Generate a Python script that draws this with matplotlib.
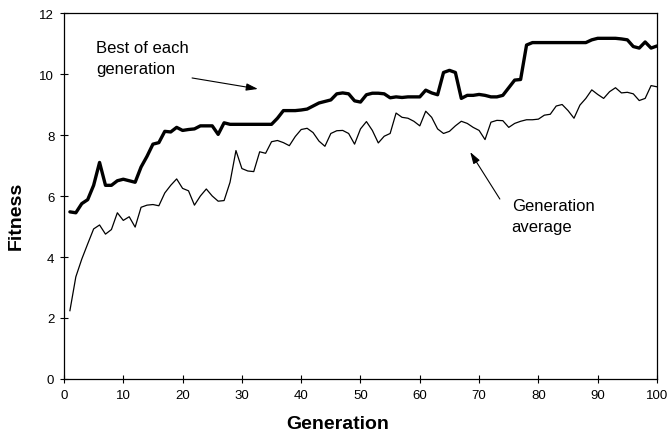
"""
plot.py - Fitness über Generationen (Bester + Durchschnitt)
"""

import matplotlib
matplotlib.use('Agg')
import matplotlib.pyplot as plt

# ─── Daten ─────────────────────────────────────────────────────────────────────
generationen = list(range(1, 101))

beste_fitness = [
    5.48, 5.45, 5.75, 5.88, 6.35, 7.10, 6.35, 6.35, 6.50, 6.55,
    6.50, 6.45, 6.95, 7.30, 7.70, 7.75, 8.12, 8.10, 8.25, 8.15,
    8.18, 8.20, 8.30, 8.30, 8.30, 8.02, 8.40, 8.35, 8.35, 8.35,
    8.35, 8.35, 8.35, 8.35, 8.35, 8.55, 8.80, 8.80, 8.80, 8.82,
    8.85, 8.95, 9.05, 9.10, 9.15, 9.35, 9.38, 9.35, 9.12, 9.08,
    9.32, 9.37, 9.37, 9.35, 9.22, 9.25, 9.23, 9.25, 9.25, 9.25,
    9.47, 9.38, 9.32, 10.05, 10.12, 10.05, 9.20, 9.30, 9.30, 9.33,
    9.30, 9.25, 9.25, 9.30, 9.55, 9.80, 9.82, 10.95, 11.03, 11.03,
    11.03, 11.03, 11.03, 11.03, 11.03, 11.03, 11.03, 11.03, 11.12, 11.17,
    11.17, 11.17, 11.17, 11.15, 11.12, 10.90, 10.85, 11.05, 10.85, 10.92,
]

durchschnitt = [
    2.24, 3.35, 3.93, 4.43, 4.92, 5.05, 4.75, 4.90, 5.45, 5.20,
    5.32, 4.98, 5.63, 5.70, 5.72, 5.68, 6.10, 6.35, 6.56, 6.25,
    6.17, 5.70, 6.00, 6.23, 6.00, 5.83, 5.85, 6.45, 7.49, 6.90,
    6.82, 6.80, 7.45, 7.40, 7.78, 7.82, 7.75, 7.65, 7.95, 8.18,
    8.22, 8.08, 7.80, 7.63, 8.05, 8.14, 8.15, 8.05, 7.70, 8.20,
    8.44, 8.15, 7.74, 7.96, 8.05, 8.72, 8.58, 8.55, 8.45, 8.30,
    8.78, 8.58, 8.20, 8.05, 8.12, 8.30, 8.45, 8.38, 8.25, 8.15,
    7.85, 8.42, 8.48, 8.47, 8.25, 8.38, 8.45, 8.50, 8.50, 8.52,
    8.65, 8.68, 8.95, 9.00, 8.80, 8.55, 8.98, 9.20, 9.48, 9.33,
    9.20, 9.42, 9.55, 9.38, 9.40, 9.35, 9.13, 9.20, 9.62, 9.58,
]

x_ticks = list(range(0, 101, 10))
y_ticks = list(range(0, 13, 2))

plt.rcParams['font.family'] = ['Liberation Sans', 'DejaVu Sans']

# ─── Plot ──────────────────────────────────────────────────────────────────────
fig = plt.figure(figsize=(6.72, 4.39), dpi=100)
ax = fig.add_axes([0.0952, 0.1344, 0.8825, 0.8337])

ax.plot(generationen, beste_fitness, color='black', linewidth=2.4,
        solid_joinstyle='round', solid_capstyle='round')
ax.plot(generationen, durchschnitt, color='black', linewidth=0.9,
        solid_joinstyle='round')

ax.set_xlim(0, 100)
ax.set_ylim(0, 12)
ax.set_xticks(x_ticks)
ax.set_yticks(y_ticks)
ax.tick_params(direction='inout', length=6, width=0.8, labelsize=9.5,
               pad=4, colors='black')

for spine in ax.spines.values():
    spine.set_linewidth(0.9)
    spine.set_color('black')

# Achsenbeschriftungen
fig.text(16 / 672, 1 - 216 / 439, 'Fitness', rotation=90, fontsize=14,
         fontweight='bold', ha='center', va='center')
fig.text(338 / 672, 1 - 425 / 439, 'Generation', fontsize=14,
         fontweight='bold', ha='center', va='center')

# Annotationen mit Pfeilen
pfeil = dict(arrowstyle='-|>,head_length=0.7,head_width=0.22',
             color='black', linewidth=0.8, shrinkA=0, shrinkB=0)

ax.text(5.4, 11.12, 'Best of each\ngeneration', fontsize=12,
        ha='left', va='top', linespacing=1.5)
ax.annotate('', xy=(32.7, 9.51), xytext=(21.6, 9.87), arrowprops=pfeil)

ax.text(75.5, 5.95, 'Generation\naverage', fontsize=12,
        ha='left', va='top', linespacing=1.5)
ax.annotate('', xy=(68.5, 7.44), xytext=(73.5, 5.9), arrowprops=pfeil)

fig.savefig('out.png', dpi=100)
plt.close(fig)
